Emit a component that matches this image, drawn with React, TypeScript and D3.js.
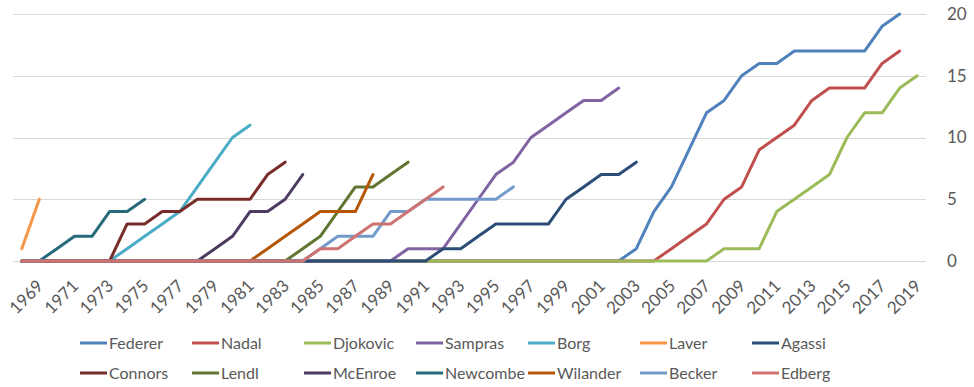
import React from 'react';
import * as d3 from 'd3';

// years on the category axis
const years = d3.range(1968, 2020);
const tickYears = years.filter(y => y % 2 === 1);
const yTicks = [0, 5, 10, 15, 20];

// cumulative slam counts, every list starts at 1968
const federer = [0, 0, 0, 0, 0, 0, 0, 0, 0, 0, 0, 0, 0, 0, 0, 0, 0, 0, 0, 0, 0, 0, 0, 0, 0, 0, 0, 0, 0, 0, 0, 0, 0, 0, 0,
    1, 4, 6, 9, 12, 13, 15, 16, 16, 17, 17, 17, 17, 17, 19, 20];
const nadal = [0, 0, 0, 0, 0, 0, 0, 0, 0, 0, 0, 0, 0, 0, 0, 0, 0, 0, 0, 0, 0, 0, 0, 0, 0, 0, 0, 0, 0, 0, 0, 0, 0, 0, 0, 0, 0,
    1, 2, 3, 5, 6, 9, 10, 11, 13, 14, 14, 14, 16, 17];
const djokovic = [0, 0, 0, 0, 0, 0, 0, 0, 0, 0, 0, 0, 0, 0, 0, 0, 0, 0, 0, 0, 0, 0, 0, 0, 0, 0, 0, 0, 0, 0, 0, 0, 0, 0, 0, 0, 0, 0, 0, 0,
    1, 1, 1, 4, 5, 6, 7, 10, 12, 12, 14, 15];
const sampras = [0, 0, 0, 0, 0, 0, 0, 0, 0, 0, 0, 0, 0, 0, 0, 0, 0, 0, 0, 0, 0, 0,
    1, 1, 1, 3, 5, 7, 8, 10, 11, 12, 13, 13, 14];
const borg = [0, 0, 0, 0, 0, 0, 1, 2, 3, 4, 6, 8, 10, 11];
const laver = [1, 5];
const agassi = [0, 0, 0, 0, 0, 0, 0, 0, 0, 0, 0, 0, 0, 0, 0, 0, 0, 0, 0, 0, 0, 0, 0, 0,
    1, 1, 2, 3, 3, 3, 3, 5, 6, 7, 7, 8];
const connors = [0, 0, 0, 0, 0, 0, 3, 3, 4, 4, 5, 5, 5, 5, 7, 8];
const lendl = [0, 0, 0, 0, 0, 0, 0, 0, 0, 0, 0, 0, 0, 0, 0, 0, 1, 2, 4, 6, 6, 7, 8];
const mcenroe = [0, 0, 0, 0, 0, 0, 0, 0, 0, 0, 0, 1, 2, 4, 4, 5, 7];
const newcombe = [0, 0, 1, 2, 2, 4, 4, 5];
const wilander = [0, 0, 0, 0, 0, 0, 0, 0, 0, 0, 0, 0, 0, 0, 1, 2, 3, 4, 4, 4, 7];
const becker = [0, 0, 0, 0, 0, 0, 0, 0, 0, 0, 0, 0, 0, 0, 0, 0, 0, 1, 2, 2, 2, 4, 4, 5, 5, 5, 5, 5, 6];
const edberg = [0, 0, 0, 0, 0, 0, 0, 0, 0, 0, 0, 0, 0, 0, 0, 0, 0, 1, 1, 2, 3, 3, 4, 5, 6];

const players = ['Federer', 'Nadal', 'Djokovic', 'Sampras', 'Borg', 'Laver', 'Agassi',
    'Connors', 'Lendl', 'McEnroe', 'Newcombe', 'Wilander', 'Becker', 'Edberg'];
const seriesValues = [federer, nadal, djokovic, sampras, borg, laver, agassi,
    connors, lendl, mcenroe, newcombe, wilander, becker, edberg];
const colors = ['#4F81BD', '#C0504D', '#9BBB59', '#8064A2', '#4BACC6', '#F79646', '#2C4D75',
    '#772C2A', '#5F7530', '#4D3B62', '#276A7C', '#B65708', '#729ACA', '#CD7371'];

const W = 974;
const H = 387;
const FONT = 'Lato, "Open Sans", sans-serif';

const Chart = () => {
    const svgRef = React.useRef<SVGSVGElement>(null);

    React.useEffect(() => {
        const svg = d3.select(svgRef.current);
        svg.selectAll('*').remove();

        const xScale = d3.scalePoint<number>().domain(years).range([13, 926]).padding(0.5);
        const yScale = d3.scaleLinear().domain([0, 20]).range([261, 14]);

        // gridlines + right axis labels
        const grid = svg.append('g');
        grid.selectAll('line')
            .data(yTicks)
            .join('line')
            .attr('x1', 13).attr('x2', 926)
            .attr('y1', d => Math.round(yScale(d)) + 0.5)
            .attr('y2', d => Math.round(yScale(d)) + 0.5)
            .attr('stroke', '#D9D9D9')
            .attr('stroke-width', 1);
        grid.selectAll('text')
            .data(yTicks)
            .join('text')
            .attr('x', 947)
            .attr('y', d => yScale(d))
            .attr('dy', '0.35em')
            .attr('font-family', FONT)
            .attr('font-size', 17)
            .attr('fill', '#595959')
            .text(d => d);

        // x labels, rotated
        svg.append('g').selectAll('text')
            .data(tickYears)
            .join('text')
            .attr('transform', d => `translate(${(xScale(d) as number) + 5},287) rotate(-45)`)
            .attr('text-anchor', 'end')
            .attr('font-family', FONT)
            .attr('font-size', 17)
            .attr('fill', '#595959')
            .text(d => d);

        // lines
        const line = d3.line<number>()
            .x((d, i) => xScale(years[i]) as number)
            .y(d => yScale(d));
        svg.append('g').selectAll('path')
            .data(seriesValues)
            .join('path')
            .attr('d', d => line(d))
            .attr('fill', 'none')
            .attr('stroke', (d, i) => colors[i])
            .attr('stroke-width', 3)
            .attr('stroke-linejoin', 'round')
            .attr('stroke-linecap', 'round');

        // legend, 7 columns x 2 rows
        const legend = svg.append('g').selectAll('g')
            .data(players)
            .join('g')
            .attr('transform', (d, i) => `translate(${80 + (i % 7) * 112},${i < 7 ? 343 : 373})`);
        legend.append('line')
            .attr('x1', 0).attr('x2', 27)
            .attr('stroke', (d, i) => colors[i])
            .attr('stroke-width', 3);
        legend.append('text')
            .attr('x', 29)
            .attr('dy', '0.35em')
            .attr('font-family', FONT)
            .attr('font-size', 16)
            .attr('fill', '#595959')
            .text(d => d);
    }, []);

    return <svg ref={svgRef} width={W} height={H} style={{position: 'absolute', left: 0, top: 0, background: '#fff'}}></svg>;
};

export default function App() {
    return <Chart />;
}
